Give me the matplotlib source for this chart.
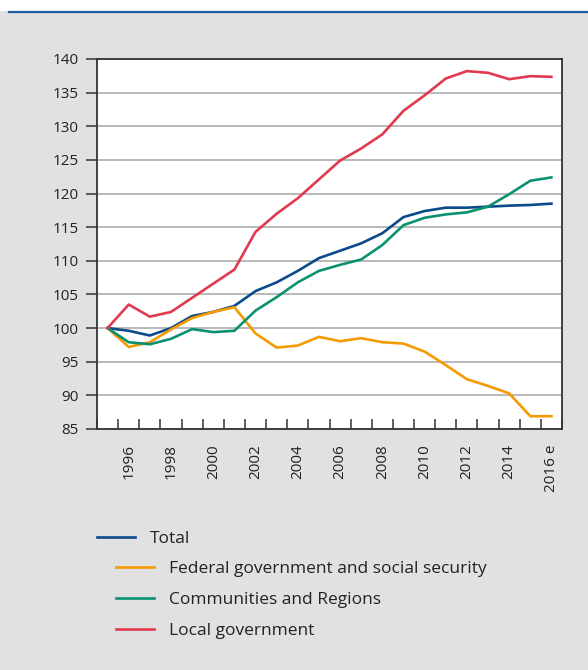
import numpy as np
import matplotlib
matplotlib.use("Agg")
import matplotlib.pyplot as plt
from matplotlib.lines import Line2D
from matplotlib.patches import Rectangle

plt.rcParams['font.family'] = ['Open Sans', 'DejaVu Sans']

years = list(range(1995, 2017))
tick_labels = ["1996", "1998", "2000", "2002", "2004", "2006", "2008",
               "2010", "2012", "2014", "2016 e"]

total = [100, 99.6, 98.9, 100.0, 101.8, 102.4, 103.3, 105.5, 106.8, 108.5,
         110.4, 111.5, 112.6, 114.1, 116.5, 117.4, 117.9, 117.9, 118.05,
         118.2, 118.3, 118.5]
federal = [100, 97.2, 97.9, 99.8, 101.5, 102.4, 103.1, 99.2, 97.1, 97.4,
           98.7, 98.05, 98.5, 97.9, 97.7, 96.5, 94.5, 92.4, 91.4, 90.3,
           86.9, 86.9]
communities = [100, 97.9, 97.6, 98.4, 99.85, 99.4, 99.6, 102.6, 104.6, 106.8,
               108.5, 109.4, 110.2, 112.35, 115.3, 116.4, 116.9, 117.2, 118.05,
               119.9, 121.9, 122.4]
local = [100, 103.5, 101.7, 102.4, 104.5, 106.6, 108.7, 114.3, 117.0, 119.3,
         122.1, 124.9, 126.7, 128.8, 132.3, 134.6, 137.1, 138.2, 137.95,
         137.0, 137.45, 137.35]

names = ["Total", "Federal government and social security",
         "Communities and Regions", "Local government"]
colors = ["#0b4a8b", "#f59a00", "#0a9170", "#e13a50"]

fig = plt.figure(figsize=(5.88, 6.70), dpi=100)
fig.patch.set_facecolor("#e1e1e1")
# white strip and blue rule on top
fig.add_artist(Rectangle((0, 1 - 11 / 670), 1, 11 / 670, transform=fig.transFigure,
                         facecolor="white", edgecolor="none"))
fig.add_artist(Line2D([9 / 588, 1], [1 - 12 / 670, 1 - 12 / 670],
                      transform=fig.transFigure, color="#1f5aa0", lw=1.6))

ax = fig.add_axes([97 / 588, 241 / 670, 465 / 588, 370 / 670])
ax.set_facecolor("white")

x = np.arange(len(years))
handles = []
for vals, c in zip([total, federal, communities, local], colors):
    h, = ax.plot(x, vals, color=c, lw=1.9, solid_joinstyle="round")
    handles.append(h)

ax.set_xlim(-0.5, len(years) - 0.5)
ax.set_ylim(85, 140)
ax.set_yticks(np.arange(85, 141, 5))
ax.yaxis.grid(True, color="#a6a6a6", lw=1.1)
ax.set_axisbelow(True)

ax.set_xticks(np.arange(1, len(years), 2))
ax.set_xticklabels(tick_labels, rotation=90, fontsize=11, color="#222222")
ax.set_xticks(np.arange(-0.5, len(years), 1), minor=True)
ax.tick_params(axis="x", which="major", length=0, pad=11)
ax.tick_params(axis="x", which="minor", direction="in", length=7.5,
               width=1.1, color="#333333")
ax.tick_params(axis="y", direction="out", length=8, width=1.1,
               color="#333333", labelsize=11, labelcolor="#222222", pad=5)

for s in ax.spines.values():
    s.set_color("#333333")
    s.set_linewidth(1.3)

leg1 = fig.legend(handles[:1], names[:1], loc="upper left",
                  bbox_to_anchor=(81 / 588, 1 - 515 / 670), frameon=False,
                  fontsize=12.5, handlelength=2.2, handletextpad=0.86,
                  labelcolor="#222222")
leg2 = fig.legend(handles[1:], names[1:], loc="upper left",
                  bbox_to_anchor=(100 / 588, 1 - 545 / 670), frameon=False,
                  fontsize=12.5, handlelength=2.2, handletextpad=0.86,
                  labelspacing=0.87, labelcolor="#222222")

fig.savefig("out.png", dpi=100, facecolor=fig.get_facecolor())
